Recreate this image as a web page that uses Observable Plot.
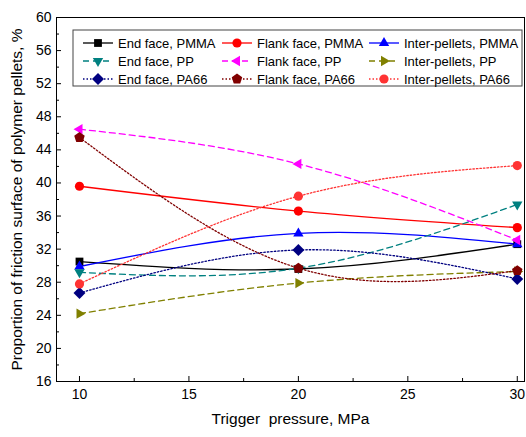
<!DOCTYPE html>
<html>
<head>
<meta charset="utf-8">
<script src="https://cdn.jsdelivr.net/npm/d3@7"></script>
<script src="https://cdn.jsdelivr.net/npm/@observablehq/plot@0.6"></script>
<style>
  html, body { margin: 0; padding: 0; background: white; }
</style>
</head>
<body>
<div id="chart"></div>
<script>
// ---- data ----
const pressures = [10, 20, 30];
const seriesNames = [
  "End face, PMMA", "Flank face, PMMA", "Inter-pellets, PMMA",
  "End face, PP", "Flank face, PP", "Inter-pellets, PP",
  "End face, PA66", "Flank face, PA66", "Inter-pellets, PA66"
];
const endPMMA   = [30.5, 29.6, 32.6];
const flankPMMA = [39.6, 36.6, 34.6];
const interPMMA = [29.9, 33.9, 32.6];
const endPP     = [29.2, 29.7, 37.4];
const flankPP   = [46.5, 42.3, 33.1];
const interPP   = [24.2, 27.9, 29.3];
const endPA66   = [26.7, 31.9, 28.4];
const flankPA66 = [45.5, 29.7, 29.4];
const interPA66 = [27.8, 38.4, 42.1];
const xTicks = [10, 15, 20, 25, 30];
const xMinorTicks = [12.5, 17.5, 22.5, 27.5];
const yTicks = [16, 20, 24, 28, 32, 36, 40, 44, 48, 52, 56, 60];
const yMinorTicks = [18, 22, 26, 30, 34, 38, 42, 46, 50, 54, 58];
const xLabel = "Trigger  pressure, MPa";
const yLabel = "Proportion of friction surface of polymer pellets, %";

// ---- styles ----
function poly(anglesDeg, k) {
  return {
    draw(ctx, size) {
      const R = Math.sqrt(size / Math.PI) * k;
      anglesDeg.forEach((a, i) => {
        const r = a * Math.PI / 180;
        const x = R * Math.sin(r), y = -R * Math.cos(r);
        if (i) ctx.lineTo(x, y); else ctx.moveTo(x, y);
      });
      ctx.closePath();
    }
  };
}
const symSquare = poly([45, 135, 225, 315], 1.2);
const symUp = poly([0, 120, 240], 1.3);
const symDown = poly([180, 300, 60], 1.3);
const symLeft = poly([270, 30, 150], 1.3);
const symRight = poly([90, 210, 330], 1.3);
const symDiamond = poly([0, 90, 180, 270], 1.3);
const symPent = poly([0, 72, 144, 216, 288], 1.2);

const styles = [
  {color: "#000000", symbol: symSquare, dash: null},
  {color: "#ff0000", symbol: "circle", dash: null},
  {color: "#0000ff", symbol: symUp, dash: null},
  {color: "#008080", symbol: symDown, dash: "6,4"},
  {color: "#ff00ff", symbol: symLeft, dash: "6,4"},
  {color: "#808000", symbol: symRight, dash: "6,4"},
  {color: "#000080", symbol: symDiamond, dash: "1.5,2"},
  {color: "#800000", symbol: symPent, dash: "1.5,2"},
  {color: "#ff3333", symbol: "circle", dash: "1.5,2"}
];
const allValues = [endPMMA, flankPMMA, interPMMA, endPP, flankPP, interPP, endPA66, flankPA66, interPA66];

const lineMarks = [];
const dotMarks = [];
allValues.forEach((vals, i) => {
  const data = pressures.map((p, j) => ({x: p, y: vals[j], s: seriesNames[i]}));
  const st = styles[i];
  lineMarks.push(Plot.line(data, {x: "x", y: "y", curve: "natural", stroke: st.color, strokeWidth: 1.3,
    strokeDasharray: st.dash}));
  dotMarks.push(Plot.dot(data, {x: "x", y: "y", symbol: st.symbol, r: 4.6, fill: st.color, stroke: "none"}));
});

const chart = Plot.plot({
  width: 526, height: 437,
  marginLeft: 56, marginRight: 2, marginTop: 17, marginBottom: 56,
  style: {fontFamily: "'Liberation Sans', Arial, sans-serif", fontSize: "14px", color: "black", background: "white"},
  x: {domain: [8.95, 30.33]},
  y: {domain: [16, 60]},
  marks: [
    Plot.axisX(xTicks, {tickSize: -5, tickPadding: 13, fontSize: 14, label: xLabel, labelAnchor: "center", labelOffset: 42, labelArrow: "none"}),
    Plot.axisX(xMinorTicks, {tickSize: -3, text: null, label: null}),
    Plot.axisY(yTicks, {tickSize: -5, tickPadding: 10, fontSize: 14, label: yLabel, labelAnchor: "center", labelOffset: 46, labelArrow: "none"}),
    Plot.axisY(yMinorTicks, {tickSize: -3, text: null, label: null}),
    ...lineMarks,
    ...dotMarks,
    Plot.frame({stroke: "black", strokeWidth: 1})
  ]
});

document.getElementById("chart").appendChild(chart);

// ---- legend (inside plot area) ----
const svg = d3.select(chart);
svg.selectAll("[aria-label='x-axis label'] text, [aria-label='y-axis label'] text").attr("font-size", 15.5);
const lg = svg.append("g")
  .attr("font-family", "'Liberation Sans', Arial, sans-serif")
  .attr("font-size", 13)
  .attr("text-anchor", "start");
lg.append("rect").attr("x", 73).attr("y", 30).attr("width", 449).attr("height", 56)
  .attr("fill", "white").attr("stroke", "#444").attr("stroke-width", 1);
const colX = [83, 222, 369];
const rowY = [43, 61, 79];
seriesNames.forEach((name, i) => {
  const st = styles[i];
  const cx = colX[i % 3], cy = rowY[Math.floor(i / 3)];
  const ln = lg.append("line").attr("x1", cx).attr("x2", cx + 30).attr("y1", cy).attr("y2", cy)
    .attr("stroke", st.color).attr("stroke-width", 1.3).attr("fill", "none");
  if (st.dash) ln.attr("stroke-dasharray", st.dash);
  const type = st.symbol === "circle" ? d3.symbolCircle : st.symbol;
  lg.append("path").attr("d", d3.symbol(type, 4.6 * 4.6 * Math.PI)())
    .attr("transform", `translate(${cx + 15},${cy})`).attr("fill", st.color).attr("stroke", "none");
  lg.append("text").attr("x", cx + 35).attr("y", cy).attr("dy", "0.35em")
    .attr("text-anchor", "start").attr("fill", "black").text(name);
});
</script>
</body>
</html>
